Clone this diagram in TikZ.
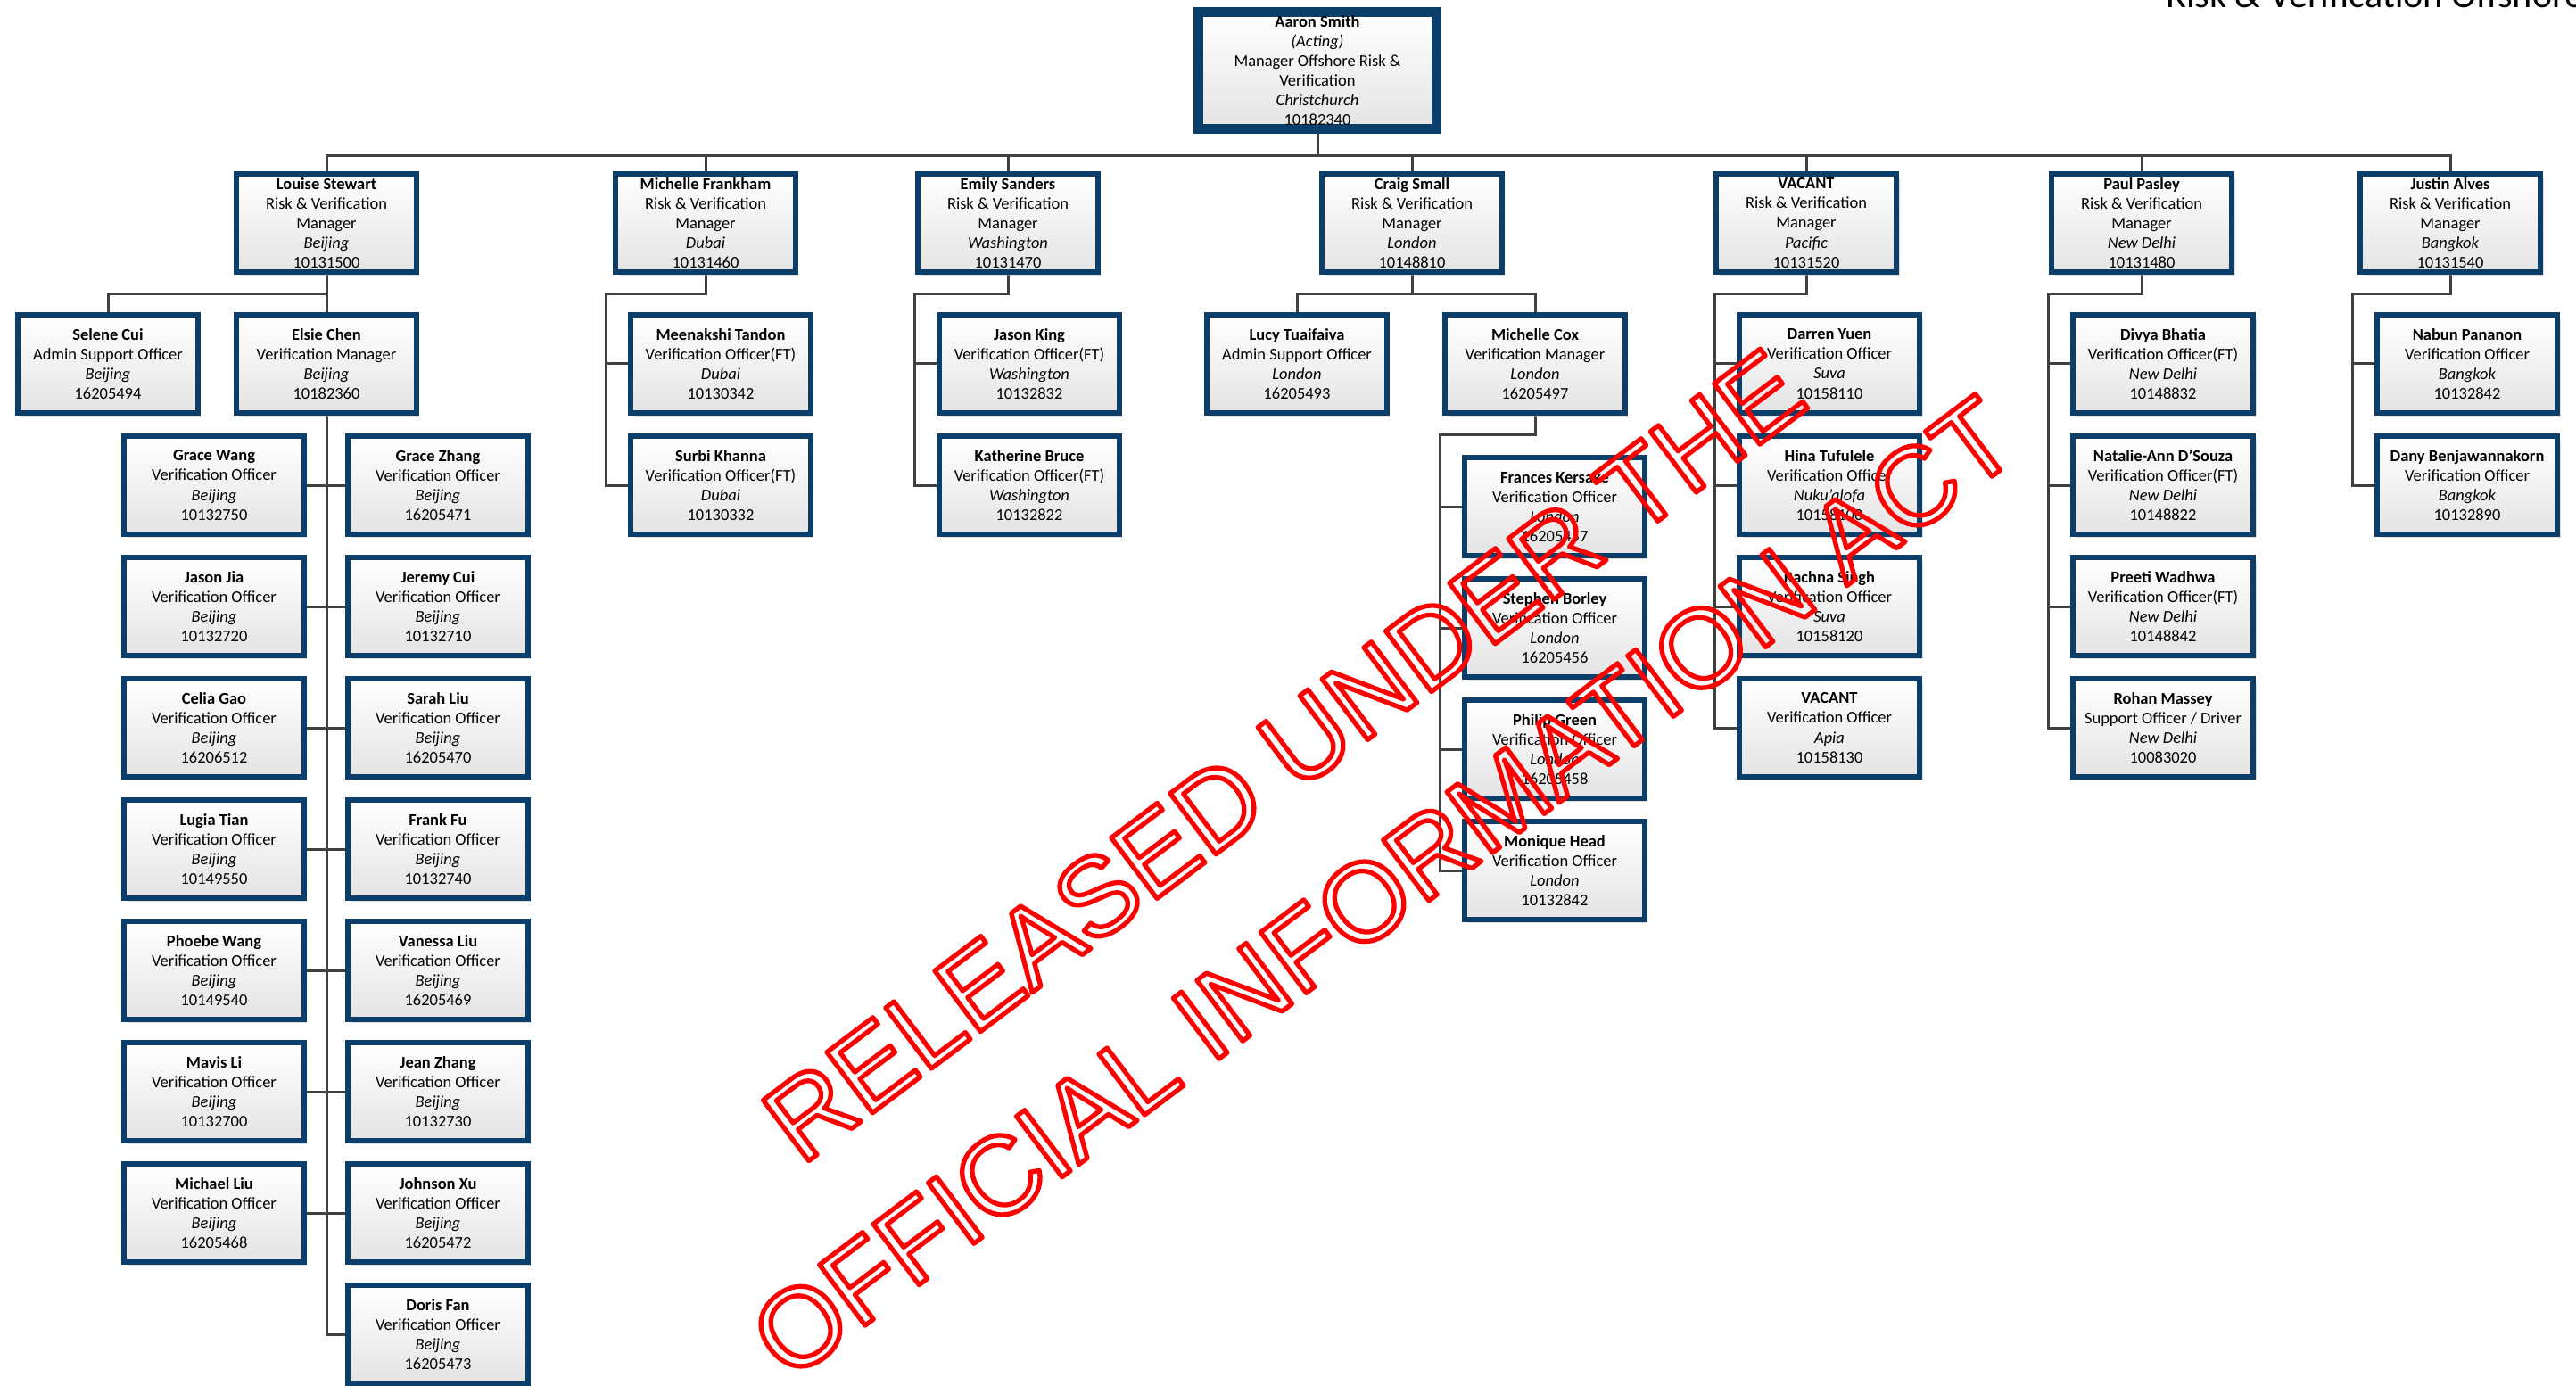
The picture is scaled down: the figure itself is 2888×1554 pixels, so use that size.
\documentclass[tikz,border=0pt]{standalone}
\usepackage{fontspec}
\setmainfont{Carlito}
\newfontfamily\stampfont{Liberation Sans}
\usetikzlibrary{positioning,calc,backgrounds,shadows}
\definecolor{navy}{HTML}{0B3F6A}
\definecolor{wire}{HTML}{404040}
\definecolor{shade}{HTML}{E4E4E4}
\definecolor{stampred}{HTML}{FF0000}
\tikzset{
  every node/.append style={font=\fontsize{10.5}{12.6}\selectfont},
  card/.style={draw=navy, line width=0.115cm, top color=white, bottom color=shade,
               minimum width=4.04cm, minimum height=2.2cm, inner sep=0pt, align=center,
               drop shadow={shadow xshift=0.07cm, shadow yshift=-0.08cm,
                            fill=black!25, opacity=0.5}},
  headcard/.style={card, line width=0.22cm, minimum width=5.34cm, minimum height=2.62cm},
  conn/.style={draw=wire, line width=0.06cm},
  wmark/.style={text=stampred, align=center, font=\stampfont\fontsize{70.5}{105.5}\selectfont},
}
\newcommand{\who}[4]{\textbf{#1}\\#2\\\textit{#3}\\#4}
\newcommand{\hollow}[1]{\special{pdf:literal direct 1 Tr 3 w 1 j}#1\special{pdf:literal direct 0 Tr}}

\begin{document}
\begin{tikzpicture}[x=0.02cm, y=-0.02cm]
  \useasboundingbox (0,0) rectangle (2888,1554);
  \node[anchor=base west, font=\fontsize{24}{29}\selectfont] (title) at (2422,9)
    {Risk \& Verification Offshore};

  % head
  \node[headcard] (aaron) at (1477,79)
    {\textbf{Aaron Smith}\\\textit{(Acting)}\\Manager Offshore Risk \&\\Verification\\\textit{Christchurch}\\10182340};

  % managers
  \foreach \n/\x/\nm/\city/\id in {ls/366/Louise Stewart/Beijing/10131500,
      mf/791/Michelle Frankham/Dubai/10131460, es/1130/Emily Sanders/Washington/10131470,
      cs/1583/Craig Small/London/10148810, vp/2025/VACANT/Pacific/10131520,
      pp/2401/Paul Pasley/New Delhi/10131480, ja/2747/Justin Alves/Bangkok/10131540}
    \node[card] (\n) at (\x,250) {\who{\nm}{Risk \& Verification\\Manager}{\city}{\id}};

  % Beijing
  \node[card] (sc) at (121,408) {\who{Selene Cui}{Admin Support Officer}{Beijing}{16205494}};
  \node[card] (ec) at (366,408) {\who{Elsie Chen}{Verification Manager}{Beijing}{10182360}};
  \foreach \i/\nm/\id in {0/Grace Wang/10132750, 1/Jason Jia/10132720, 2/Celia Gao/16206512,
      3/Lugia Tian/10149550, 4/Phoebe Wang/10149540, 5/Mavis Li/10132700, 6/Michael Liu/16205468}
    \node[card] (bl\i) at (240,544+\i*136) {\who{\nm}{Verification Officer}{Beijing}{\id}};
  \foreach \i/\nm/\id in {0/Grace Zhang/16205471, 1/Jeremy Cui/10132710, 2/Sarah Liu/16205470,
      3/Frank Fu/10132740, 4/Vanessa Liu/16205469, 5/Jean Zhang/10132730, 6/Johnson Xu/16205472,
      7/Doris Fan/16205473}
    \node[card] (br\i) at (491,544+\i*136) {\who{\nm}{Verification Officer}{Beijing}{\id}};

  % Dubai, Washington
  \foreach \i/\nm/\id in {0/Meenakshi Tandon/10130342, 1/Surbi Khanna/10130332}
    \node[card] (fd\i) at (808,408+\i*136) {\who{\nm}{Verification Officer(FT)}{Dubai}{\id}};
  \foreach \i/\nm/\id in {0/Jason King/10132832, 1/Katherine Bruce/10132822}
    \node[card] (wa\i) at (1154,408+\i*136) {\who{\nm}{Verification Officer(FT)}{Washington}{\id}};

  % London
  \node[card] (lt) at (1454,408) {\who{Lucy Tuaifaiva}{Admin Support Officer}{London}{16205493}};
  \node[card] (mc) at (1721,408) {\who{Michelle Cox}{Verification Manager}{London}{16205497}};
  \foreach \i/\nm/\id in {0/Frances Kersake/16205457, 1/Stephen Borley/16205456,
      2/Philip Green/16205458, 3/Monique Head/10132842}
    \node[card] (lo\i) at (1743,568+\i*136) {\who{\nm}{Verification Officer}{London}{\id}};

  % Pacific
  \foreach \i/\nm/\city/\id in {0/Darren Yuen/Suva/10158110, 1/Hina Tufulele/Nuku’alofa/10158100,
      2/Rachna Singh/Suva/10158120, 3/VACANT/Apia/10158130}
    \node[card] (pa\i) at (2051,408+\i*136) {\who{\nm}{Verification Officer}{\city}{\id}};

  % New Delhi, Bangkok
  \foreach \i/\nm/\role/\id in {0/Divya Bhatia/Verification Officer(FT)/10148832,
      1/Natalie-Ann D’Souza/Verification Officer(FT)/10148822,
      2/Preeti Wadhwa/Verification Officer(FT)/10148842,
      3/Rohan Massey/{Support Officer / Driver}/10083020}
    \node[card] (nd\i) at (2425,408+\i*136) {\who{\nm}{\role}{New Delhi}{\id}};
  \foreach \i/\nm/\id in {0/Nabun Pananon/10132842, 1/Dany Benjawannakorn/10132890}
    \node[card] (bk\i) at (2766,408+\i*136) {\who{\nm}{Verification Officer}{Bangkok}{\id}};

  % lines
  \begin{scope}[on background layer]
    \fill[white] (0,0) rectangle (2888,1554);
    \foreach \n in {ls,mf,es,cs,vp,pp,ja}
      \draw[conn] (aaron.south) -- ++(0,24.5) -| (\n.north);
    \draw[conn] (ls.south) -- ++(0,22) -| (sc.north);
    \draw[conn] (ls.south) -- (ec.north);
    \draw[conn] (ec.south) |- (br7.west);
    \foreach \i in {0,...,6}
      \draw[conn] (bl\i.east) -- (br\i.west);
    \draw[conn] (cs.south) -- ++(0,22) -| (lt.north);
    \draw[conn] (cs.south) -- ++(0,22) -| (mc.north);
    \foreach \p/\c/\k in {mf/fd/1, es/wa/1, mc/lo/3, vp/pa/3, pp/nd/3, ja/bk/1}{
      \draw[conn] (\p.south) -- ++(0,22) -| ($(\c\k.west)+(-25,0)$) -- (\c\k.west);
      \foreach \j in {0,...,\k}
        \draw[conn] (\c\j.west) -- ++(-25,0);
    }
  \end{scope}

  % stamp
  \node[wmark, rotate=37] (stamp) at (1495,921)
    {\hollow{RELEASED UNDER THE\\OFFICIAL INFORMATION ACT}};
\end{tikzpicture}
\end{document}
